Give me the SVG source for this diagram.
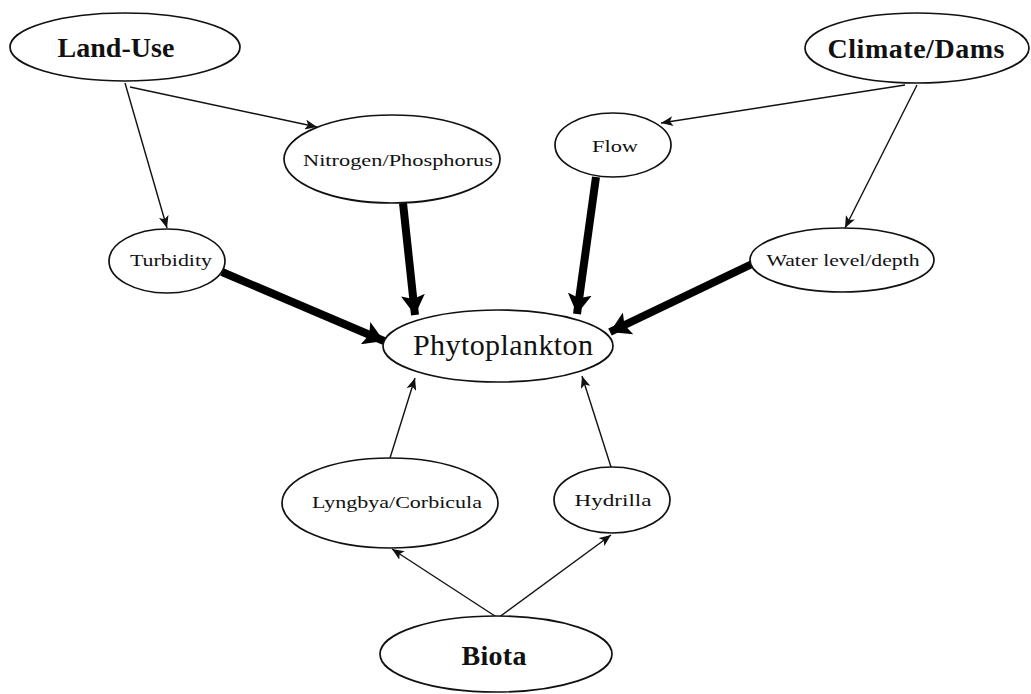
<svg xmlns="http://www.w3.org/2000/svg" width="1031" height="694" viewBox="0 0 1031 694">
<style>
.n ellipse{fill:#fff;stroke:#111;stroke-width:1.7}
.n text{font-family:"Liberation Serif","Times New Roman",serif;fill:#111;text-anchor:middle;dominant-baseline:central}
.big text{font-size:28px;font-weight:bold}
.mid text{font-size:30px}
.sm text{font-size:17px}
.thin{stroke:#111;stroke-width:1.4;fill:none}
.thick{stroke:#000;stroke-width:8;fill:none}
</style>
<defs>
<marker id="ah" markerUnits="userSpaceOnUse" viewBox="0 0 12 10" refX="12" refY="5" markerWidth="12" markerHeight="10" orient="auto">
<path d="M0,0 L12,5 L0,10 L3,5 Z" fill="#111"/>
</marker>
<marker id="ahb" markerUnits="userSpaceOnUse" viewBox="0 0 20 24" refX="20" refY="12" markerWidth="20" markerHeight="24" orient="auto">
<path d="M0,0 L20,12 L0,24 L4,12 Z" fill="#000"/>
</marker>
</defs>
<rect width="1031" height="694" fill="#fff"/>
<g id="connectors">
<line class="thin" x1="125" y1="83" x2="167" y2="228" marker-end="url(#ah)"/>
<line class="thin" x1="130" y1="87" x2="317" y2="127" marker-end="url(#ah)"/>
<line class="thin" x1="905" y1="85" x2="661" y2="123" marker-end="url(#ah)"/>
<line class="thin" x1="917" y1="85" x2="845" y2="228" marker-end="url(#ah)"/>
<line class="thick" x1="222" y1="272" x2="384" y2="341" marker-end="url(#ahb)"/>
<line class="thick" x1="403" y1="203" x2="415" y2="315" marker-end="url(#ahb)"/>
<line class="thick" x1="596" y1="177" x2="577" y2="314" marker-end="url(#ahb)"/>
<line class="thick" x1="752" y1="264" x2="610" y2="332" marker-end="url(#ahb)"/>
<line class="thin" x1="390" y1="458" x2="415" y2="378" marker-end="url(#ah)"/>
<line class="thin" x1="611" y1="467" x2="582" y2="376" marker-end="url(#ah)"/>
<line class="thin" x1="498" y1="618" x2="392" y2="549" marker-end="url(#ah)"/>
<line class="thin" x1="498" y1="618" x2="611" y2="535" marker-end="url(#ah)"/>
</g>
<g id="land-use" class="n big"><ellipse cx="125" cy="47" rx="115" ry="34"/><text x="116" y="47" textLength="117">Land-Use</text></g>
<g id="climate-dams" class="n big"><ellipse cx="917" cy="48" rx="112" ry="35"/><text x="916" y="48" textLength="177">Climate/Dams</text></g>
<g id="nitrogen-phosphorus" class="n sm"><ellipse cx="392" cy="159" rx="108" ry="44"/><text x="398" y="160" textLength="190" lengthAdjust="spacingAndGlyphs">Nitrogen/Phosphorus</text></g>
<g id="flow" class="n sm"><ellipse cx="613" cy="145" rx="58" ry="32"/><text x="615" y="146" textLength="46" lengthAdjust="spacingAndGlyphs">Flow</text></g>
<g id="turbidity" class="n sm"><ellipse cx="167" cy="261" rx="58" ry="32"/><text x="171" y="260" textLength="82" lengthAdjust="spacingAndGlyphs">Turbidity</text></g>
<g id="water-level" class="n sm"><ellipse cx="842" cy="260" rx="92" ry="32"/><text x="843" y="260" textLength="153" lengthAdjust="spacingAndGlyphs">Water level/depth</text></g>
<g id="phytoplankton" class="n mid"><ellipse cx="498" cy="346" rx="115" ry="36"/><text x="503" y="344" textLength="180">Phytoplankton</text></g>
<g id="lyngbya-corbicula" class="n sm"><ellipse cx="390" cy="503" rx="108" ry="45"/><text x="397" y="502" textLength="170" lengthAdjust="spacingAndGlyphs">Lyngbya/Corbicula</text></g>
<g id="hydrilla" class="n sm"><ellipse cx="612" cy="500" rx="58" ry="33"/><text x="613" y="500" textLength="77" lengthAdjust="spacingAndGlyphs">Hydrilla</text></g>
<g id="biota" class="n big"><ellipse cx="496" cy="654" rx="116" ry="38"/><text x="494" y="655" textLength="65">Biota</text></g>
</svg>
